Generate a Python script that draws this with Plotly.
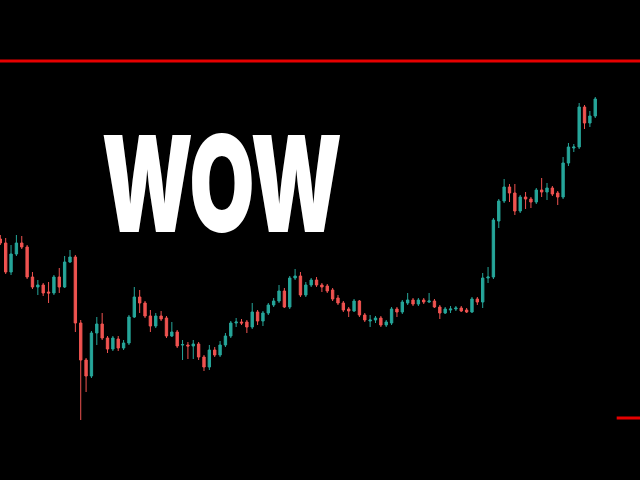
import plotly.graph_objects as go

# OHLC values (arbitrary price units)
opens = [241,237,208,226,237,233,203,193,195,188,187,203,193,218,223,157,120,104,147,156,
         142,131,141,132,137,163,183,177,164,154,164,162,144,148,135,135,134,136,123,113,
         130,125,135,144,157,158,158,153,168,159,167,175,179,189,173,202,204,185,195,200,
         195,194,190,182,177,171,169,179,165,159,160,162,155,157,171,168,177,180,176,180,
         178,179,173,167,170,171,172,170,168,181,178,202,203,259,279,293,287,269,283,281,
         278,290,288,292,287,283,317,332,333,373,357,364]
highs = [245,242,235,245,244,235,208,200,197,198,205,212,224,230,225,160,122,149,163,167,
         144,144,144,140,165,193,190,179,170,167,169,164,158,150,140,138,140,138,125,135,
         133,139,147,159,162,161,160,177,170,169,177,182,195,192,204,211,208,198,202,203,
         197,196,192,185,179,173,181,180,167,165,164,164,160,173,173,180,187,182,182,182,
         187,181,175,173,174,174,174,172,183,183,207,213,262,281,301,296,296,285,288,283,
         292,302,297,294,289,323,337,336,377,375,369,383]
lows = [235,206,205,224,231,201,191,185,184,177,185,187,192,217,148,60,88,102,135,140,
        127,129,129,130,135,162,167,162,148,152,159,142,143,132,120,121,121,120,109,110,
        123,123,133,142,153,155,147,151,155,154,165,173,177,172,171,200,183,183,193,193,
        188,187,179,175,168,163,168,163,158,153,157,153,153,155,163,166,175,174,174,176,
        177,172,161,166,167,169,168,167,167,175,172,197,201,252,277,278,265,267,271,272,
        276,283,280,284,275,281,314,328,331,351,353,362]
closes = [237,208,226,237,233,203,193,195,187,187,203,193,218,223,157,120,104,147,156,142,
          131,142,132,137,163,183,177,164,154,164,161,144,148,134,135.4,134,136,123,113,130,
          125,135,144,157,158,157,153,168,159,167,175,179,189,173,202,204,185,195,200,195,
          193,189,181,177,170,169,179,165,160,160,162,155,158,171,168,178,180,176,180,178,
          179,173,167,171,171,172,169,168,181,178,202,203,260,279,293,287,269,283,281,278,
          290,288,292,286,283,317,333,333,373,357,364,381]
x_idx = list(range(len(opens)))

resistance_level = 419
support_level = 62
support_x = [115, 125]

UP = "#26a69a"
DOWN = "#ef5350"
LINE_RED = "#e60000"

fig = go.Figure()
fig.add_trace(go.Candlestick(
    x=x_idx, open=opens, high=highs, low=lows, close=closes,
    increasing=dict(line=dict(color=UP, width=1), fillcolor=UP),
    decreasing=dict(line=dict(color=DOWN, width=1), fillcolor=DOWN),
    whiskerwidth=0, showlegend=False, hoverinfo="skip",
))
fig.add_trace(go.Scatter(
    x=[-5, 130], y=[resistance_level, resistance_level], mode="lines",
    line=dict(color=LINE_RED, width=3), showlegend=False, hoverinfo="skip",
))
fig.add_trace(go.Scatter(
    x=support_x, y=[support_level, support_level], mode="lines",
    line=dict(color=LINE_RED, width=3), showlegend=False, hoverinfo="skip",
))

fig.add_annotation(
    text="WOW", xref="paper", yref="paper", x=0.347, y=0.618,
    xanchor="center", yanchor="middle", showarrow=False,
    font=dict(family="Inter, Roboto, Liberation Sans, Arial", size=134, color="white", weight=900),
)

fig.update_layout(
    width=640, height=480,
    margin=dict(l=0, r=0, t=0, b=0),
    paper_bgcolor="black", plot_bgcolor="black",
    boxgap=0.37,
    xaxis=dict(range=[-0.06, 119.35], visible=False, showgrid=False, zeroline=False,
               rangeslider=dict(visible=False), fixedrange=True),
    yaxis=dict(range=[0, 480], visible=False, showgrid=False, zeroline=False, fixedrange=True),
)

post = """
document.body.style.margin='0';
document.body.style.background='black';
function squeezeText(){
  document.querySelectorAll('.annotation-text').forEach(function(t){
    t.style.transform='';
    var w=t.getBBox().width;
    if(w>0){
      t.style.transformBox='fill-box';
      t.style.transformOrigin='center';
      t.style.transform='scaleX('+(240/w)+')';
    }
  });
}
squeezeText();
setTimeout(squeezeText, 50);
setTimeout(squeezeText, 300);
"""

fig.write_html("out.html", config={"displayModeBar": False}, post_script=post)
